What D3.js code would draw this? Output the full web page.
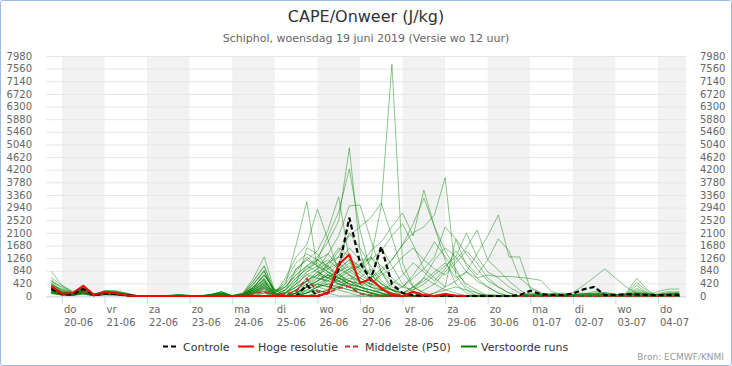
<!DOCTYPE html>
<html><head><meta charset="utf-8">
<script src="https://cdn.jsdelivr.net/npm/d3@7"></script>
<style>
body{margin:0;background:#fff}
svg{display:block}
text{font-family:"DejaVu Sans",Verdana,sans-serif}
</style>
</head><body>
<svg id="chart" width="732" height="366"></svg>
<script>
// ---------- data ----------
const dayNames = ["do","vr","za","zo","ma","di","wo","do","vr","za","zo","ma","di","wo","do"];
const dayDates = ["20-06","21-06","22-06","23-06","24-06","25-06","26-06","27-06","28-06","29-06","30-06","01-07","02-07","03-07","04-07"];
const yTickValues = [0,420,840,1260,1680,2100,2520,2940,3360,3780,4200,4620,5040,5460,5880,6300,6720,7140,7560,7980];
const shadedDays = ["20-06","22-06","24-06","26-06","28-06","30-06","02-07","04-07"];
const firstRun = Date.UTC(2019,5,19,18); // first value 19-06 18 UTC, 6-hourly

const control = [230,60,50,230,30,80,70,20,0, 0,0,0,0,0,0,0,0, 0,0,0,0,0,
  0,0,360,0,100,900,2600,1100,550,1640,400,100,
  30,0,0,20,0,0,0,0,0,0,30,
  175,60,40,30,80,220,300,30,40,60,50,40,30,40,40];
const hres = [330,70,100,340,40,120,100,20,0, 0,0,0,0,0,0,0,0, 0,0,0,0,0,
  0,0,0,0,100,1050,1380,430,570,250,40,0,
  140,30,0,70,20,0];
const p50 = [250,80,70,160,40,100,80,40,0, 0,0,0,0,0,0,0,10, 0,10,80,150,20,
  60,150,580,150,100,260,320,80,20,10,0,0,
  0,0,0,0,0,0,0,0,0,0,0,
  0,0,0,0,0,0,0,0,0,0,0,0,0,0,0];
const members = [
[820,360,150,260,60,150,120,60,10, 0,0,10,30,10,0,20,60, 20,100,600,1300,150, 400,1700,3136,900,300,600,400,200,100,50,20,0, 0,0,0,20,0,0,0,0,0,0,0, 0,0,10,0,0,0,20,50,30,0,0,0,10,20,10],
[620,340,120,210,50,140,110,40,0, 0,0,0,0,0,0,0,0, 10,80,500,1000,100, 600,1300,1700,2890,1860,800,300,100,50,0,0,0, 0,0,0,0,0,0,30,60,20,0,0, 0,0,0,0,0,40,80,60,20,0,50,0,0,0,0],
[520,180,90,300,40,180,160,90,10, 0,0,0,20,0,0,50,140, 0,60,400,850,50, 200,900,1200,1500,2200,3300,1200,400,100,0,0,0, 0,0,0,0,0,0,0,0,0,0,0, 0,0,0,0,0,0,0,0,0,30,100,40,0,0,0],
[420,120,70,160,30,110,90,40,0, 0,0,0,0,0,0,0,0, 0,50,300,700,200, 100,500,1000,1300,1800,2500,4930,1500,300,100,0,0, 0,0,0,0,0,0,0,0,0,0,0, 50,30,20,40,60,80,40,30,20,60,120,60,30,80,100],
[330,90,60,130,20,90,70,30,0, 0,0,0,0,0,10,40,100, 0,30,250,550,0, 50,300,800,1200,2000,2800,4220,2200,800,200,0,0, 0,0,0,0,0,0,0,0,0,0,0, 0,0,0,0,0,0,0,0,0,0,0,0,20,0,0],
[260,70,50,190,30,120,100,60,0, 0,0,0,0,0,0,0,0, 0,20,200,450,100, 0,200,600,900,1400,2000,3000,3025,1900,800,200,0, 0,0,0,0,0,0,0,0,0,0,0, 30,60,40,20,30,100,60,40,30,40,80,40,20,60,50],
[210,60,40,110,20,70,60,20,0, 0,0,0,0,0,0,0,0, 0,10,150,350,50, 0,100,300,500,800,600,900,1200,1200,3000,7700,1100, 300,100,0,0,0,0,0,0,0,0,0, 0,20,60,40,20,40,80,120,60,20,60,20,40,100,60],
[160,50,70,230,40,100,80,30,0, 0,10,20,40,20,0,10,30, 0,0,100,250,0, 0,100,400,700,1000,1500,2000,2300,2600,3090,1970,800, 300,100,0,0,0,0,0,0,0,0,0, 80,40,20,10,40,60,100,60,30,50,90,50,30,40,70],
[360,220,100,290,50,170,180,110,20, 0,0,0,0,0,0,0,0, 0,0,80,150,30, 0,0,200,400,300,600,800,1000,1500,1800,2300,2760, 2000,3525,2300,1200,400,100,0,0,0,0,0, 20,50,80,60,30,20,50,40,20,30,150,70,40,50,150],
[110,40,30,90,10,60,50,10,0, 0,0,10,30,10,0,20,60, 0,0,0,0,0, 0,0,100,200,100,300,500,300,600,900,1200,1700, 2400,3260,2300,1500,900,300,100,0,0,0,0, 100,60,30,20,10,30,60,90,40,20,40,20,10,30,40],
[480,300,130,240,70,130,140,70,10, 0,0,0,20,0,0,50,140, 0,50,300,700,200, 0,0,100,300,200,400,600,500,300,800,1200,1700, 2100,2300,2700,3934,700,200,0,0,0,0,0, 40,20,10,30,50,70,150,110,50,30,60,30,20,50,60],
[300,100,80,180,30,100,90,50,0, 0,0,0,0,0,0,0,0, 0,20,200,450,100, 0,50,150,300,400,500,700,300,200,100,0,100, 300,500,800,1100,600,800,1400,2000,2693,1300,1300, 250,100,0,0,0,0,0,0,0,0,0,0,0,0,0],
[240,80,60,150,20,80,70,30,0, 0,0,0,10,0,0,30,80, 0,0,100,250,0, 0,100,300,500,700,400,300,600,900,400,200,300, 200,600,1200,1600,1300,2095,1300,800,600,300,100, 0,0,0,0,0,0,0,0,0,0,0,0,0,0,0],
[180,60,50,120,20,60,50,20,0, 0,0,0,0,0,0,0,0, 0,30,250,550,0, 100,300,500,800,1000,600,400,300,200,100,0,0, 0,200,400,800,1200,1600,2195,1200,860,500,200, 0,0,0,0,0,0,0,0,0,0,0,0,0,0,0],
[140,50,40,200,30,90,80,40,0, 0,0,0,0,0,0,0,0, 0,0,0,0,0, 0,0,0,100,200,300,500,800,1200,1500,2000,2400, 1700,900,600,300,1890,1000,600,300,100,0,0, 0,0,0,0,0,0,0,0,0,0,0,0,0,0,0],
[390,150,90,270,40,150,130,80,10, 0,0,10,30,10,0,20,60, 0,50,300,700,200, 200,600,900,1100,800,500,300,200,100,50,0,0, 0,0,0,0,0,0,0,0,0,0,0, 0,0,0,0,120,350,620,900,600,300,100,50,0,0,0],
[280,90,70,170,30,110,100,50,0, 0,0,0,0,0,0,0,0, 0,10,150,350,50, 0,200,500,300,600,900,1200,800,500,300,100,0, 0,0,100,300,500,800,600,700,650,650,620, 580,520,150,50,0,0,0,0,0,0,0,0,0,0,0],
[200,70,40,140,20,70,60,30,0, 0,0,0,0,0,10,40,100, 10,80,500,1000,100, 300,800,1300,1000,700,1100,1600,1200,700,400,200,100, 0,0,0,0,0,0,0,0,0,0,0, 0,0,0,0,0,0,0,0,0,100,590,200,0,0,0],
[120,40,30,100,10,50,40,20,0, 0,0,0,0,0,0,0,0, 0,60,400,850,50, 100,400,1600,1400,900,700,500,300,100,0,0,0, 0,0,0,0,0,0,0,0,0,0,0, 0,0,0,0,0,0,0,0,0,80,450,150,0,0,0],
[90,30,20,70,10,40,30,10,0, 0,0,0,0,0,0,0,0, 0,0,0,0,0, 0,0,300,600,1100,1600,1300,900,1300,800,300,100, 0,0,0,0,0,0,0,0,0,0,0, 0,0,0,0,0,0,0,0,0,60,350,100,0,0,0],
[560,250,110,230,50,120,110,50,0, 0,0,0,20,0,0,50,140, 0,20,200,450,100, 500,1100,1400,1200,900,1300,2100,1600,1000,500,200,0, 0,0,0,0,0,0,0,0,0,0,0, 0,0,0,0,0,0,0,0,0,0,0,0,0,0,0],
[450,140,80,210,40,140,120,60,0, 0,0,0,0,0,0,0,0, 0,50,300,700,200, 300,700,1000,800,600,800,1100,900,600,1600,1000,400, 100,0,0,0,0,0,0,0,0,0,0, 0,0,0,0,0,0,0,0,0,0,0,0,0,0,0],
[350,110,70,190,30,100,90,40,0, 0,0,10,30,10,0,20,60, 0,30,250,550,0, 200,500,800,1000,1200,900,700,500,400,300,200,100, 200,400,700,1000,1300,800,500,300,100,0,0, 0,0,0,0,0,0,0,0,0,50,250,100,0,0,0],
[270,90,60,160,30,90,80,40,0, 0,0,0,0,0,0,0,0, 0,10,150,350,50, 100,400,700,600,500,700,900,1000,1300,1000,600,300, 700,1200,1800,1300,800,400,200,0,0,0,0, 0,0,0,0,0,0,0,0,0,0,0,0,0,0,0],
[220,70,50,130,20,80,70,30,0, 0,10,20,40,20,0,10,30, 0,0,100,250,0, 0,200,500,700,900,1100,800,600,400,700,900,1300, 1600,1200,900,700,1100,1500,1100,600,300,100,0, 0,0,0,0,0,0,0,0,0,0,0,0,0,0,0],
[170,60,40,110,20,70,60,30,0, 0,0,0,0,0,0,0,0, 0,0,80,150,30, 0,100,300,500,700,600,500,400,600,800,500,300, 600,900,1300,2300,1900,1400,900,500,300,100,0, 0,0,0,0,0,0,0,0,0,0,0,0,0,0,0],
[130,50,30,90,10,60,50,20,0, 0,0,0,0,0,0,0,0, 0,0,0,0,0, 0,0,100,300,500,800,1000,700,500,300,200,100, 0,0,0,0,0,0,0,0,0,0,0, 0,0,0,0,0,0,0,0,0,0,0,0,80,150,120],
[100,40,30,80,10,50,40,10,0, 0,0,0,0,0,0,0,0, 0,0,0,0,0, 0,100,200,400,600,400,300,200,100,200,400,700, 1100,800,500,900,1500,1100,700,1200,1900,1500,600, 300,100,0,0,0,0,0,0,0,0,0,0,0,0,0],
[310,130,80,250,40,130,110,60,0, 0,0,0,20,0,0,50,140, 0,60,400,800,100, 400,900,1200,1000,800,600,400,300,200,100,0,0, 0,0,0,0,0,0,0,0,0,0,0, 0,0,0,0,0,0,0,0,0,0,0,0,150,230,230],
[250,90,60,200,30,100,90,40,0, 0,0,0,0,0,0,0,0, 0,30,250,500,50, 200,600,900,1200,1000,700,500,400,300,200,100,0, 0,0,0,0,0,0,0,0,0,0,0, 0,0,0,0,0,0,0,0,0,0,0,0,50,100,80],
[190,80,50,150,20,80,70,30,0, 0,0,0,10,0,0,30,80, 0,20,200,400,0, 100,300,500,700,600,500,400,300,200,100,0,0, 0,0,0,0,0,0,0,0,0,0,0, 0,0,0,0,0,0,0,0,0,0,0,0,0,0,0],
[150,60,40,120,20,70,60,20,0, 0,0,0,0,0,0,0,0, 0,10,150,300,50, 0,200,400,600,500,400,300,200,100,0,0,0, 0,0,0,0,0,0,0,0,0,0,0, 0,0,0,0,0,0,0,0,0,40,200,80,0,0,0],
[110,40,30,100,10,60,50,20,0, 0,0,0,0,0,0,0,0, 0,0,100,200,0, 0,100,300,400,300,200,100,0,0,0,0,0, 0,0,0,0,0,0,0,0,0,0,0, 0,0,0,0,0,0,0,0,0,0,0,0,0,0,0],
[80,30,20,60,10,40,30,10,0, 0,0,0,0,0,0,0,0, 0,0,0,0,0, 0,0,100,200,100,0,0,0,0,0,0,0, 0,0,0,0,0,0,0,0,0,0,0, 0,0,0,0,0,0,0,0,0,0,0,0,0,0,0],
[400,200,100,280,50,160,150,70,10, 0,0,10,30,10,0,20,60, 0,40,300,600,100, 300,700,1000,1200,1400,1000,700,500,300,200,100,0, 0,0,0,0,0,0,0,0,0,0,0, 0,0,0,0,0,0,0,0,0,0,0,0,0,0,0],
[340,120,70,220,40,120,100,50,0, 0,0,0,0,0,0,0,0, 0,20,200,400,50, 100,400,700,900,1100,1300,900,600,400,200,100,0, 0,0,100,200,300,200,100,0,0,0,0, 0,0,0,0,0,0,0,0,0,0,0,0,0,0,0],
[290,100,60,180,30,110,90,40,0, 0,0,0,0,0,0,0,0, 0,0,100,300,0, 0,200,500,800,600,900,1200,1000,700,400,200,100, 300,600,400,200,100,0,0,0,0,0,0, 0,0,0,0,0,0,0,0,0,0,0,0,0,0,0],
[230,80,50,140,20,90,70,30,0, 0,0,0,0,0,10,40,100, 0,10,150,300,0, 0,100,300,500,700,500,300,200,100,0,0,0, 0,0,0,0,0,0,0,0,0,0,0, 0,0,50,100,50,0,0,0,0,0,0,0,0,0,0],
[160,60,40,120,20,70,60,20,0, 0,0,0,0,0,0,0,0, 0,0,0,100,0, 0,0,100,300,400,300,200,100,0,0,0,0, 0,0,0,0,0,0,0,0,0,0,0, 0,0,0,0,0,0,0,0,0,0,0,0,0,0,0],
[120,50,30,90,10,60,50,20,0, 0,0,0,0,0,0,0,0, 0,0,50,100,0, 0,0,0,100,200,300,200,100,0,0,0,0, 0,0,0,0,0,0,0,0,0,0,0, 0,0,0,0,0,0,0,0,0,0,0,0,0,0,0]
];
const legendItems = [
  {name:"Controle", color:"#000000", dash:"5,3", width:2.2},
  {name:"Hoge resolutie", color:"#ff0000", dash:null, width:2},
  {name:"Middelste (P50)", color:"#c83232", dash:"5,3", width:1.8},
  {name:"Verstoorde runs", color:"#008000", dash:null, width:2}
];

// ---------- layout ----------
const W = 732, H = 366;
const plot = {left:46, right:686, top:56, bottom:296};
const svg = d3.select("#chart");
const parseDay = s => { const [d,m] = s.split("-").map(Number); return new Date(Date.UTC(2019, m-1, d)); };
const timeAt = i => new Date(firstRun + i*6*3600*1000);

const x = d3.scaleUtc()
  .domain([new Date(Date.UTC(2019,5,19,15,0)), new Date(Date.UTC(2019,6,4,15,47))])
  .range([plot.left, plot.right]);
const y = d3.scaleLinear().domain([0, 7980]).range([plot.bottom, plot.top]);

svg.append("rect").attr("x",0.5).attr("y",0.5).attr("width",W-1).attr("height",H-1)
  .attr("rx",2).attr("fill","#fff").attr("stroke","#9bbbe2");

// bands
svg.append("g").selectAll("rect").data(shadedDays).join("rect")
  .attr("x", d => x(parseDay(d)))
  .attr("y", plot.top)
  .attr("width", d => Math.min(plot.right, x(new Date(parseDay(d).getTime()+86400000))) - x(parseDay(d)))
  .attr("height", plot.bottom - plot.top)
  .attr("fill", "#f2f2f2");

// grid
const grid = svg.append("g").attr("transform", `translate(${plot.left},0)`)
  .call(d3.axisLeft(y).tickValues(yTickValues).tickSize(-(plot.right-plot.left)).tickFormat(""));
grid.select(".domain").remove();
grid.selectAll("line").attr("stroke","#e6e6e6");

// y axes labels
function styleY(g){
  g.select(".domain").remove();
  g.selectAll("line").remove();
  g.selectAll("text").attr("fill","#666").style("font-size","10px").style("font-family","DejaVu Sans, sans-serif");
}
svg.append("g").attr("transform", `translate(${plot.left},0)`)
  .call(d3.axisLeft(y).tickValues(yTickValues).tickSize(0).tickPadding(14).tickFormat(d3.format("d")))
  .call(styleY);
svg.append("g").attr("transform", `translate(${plot.right},0)`)
  .call(d3.axisRight(y).tickValues(yTickValues).tickSize(0).tickPadding(14).tickFormat(d3.format("d")))
  .call(styleY);

// x axis
const xa = svg.append("g").attr("transform", `translate(0,${plot.bottom+0.5})`)
  .call(d3.axisBottom(x).tickValues(dayDates.map(parseDay)).tickSize(8).tickSizeOuter(0).tickFormat(""));
xa.select(".domain").attr("stroke","#ccd6eb");
xa.selectAll(".tick line").attr("stroke","#ccd6eb");
xa.selectAll(".tick").each(function(d,i){
  const t = d3.select(this).append("text").attr("fill","#666").attr("text-anchor","start")
    .style("font-size","10px").style("font-family","DejaVu Sans, sans-serif");
  t.append("tspan").attr("x",1.5).attr("y",16.5).text(dayNames[i]);
  t.append("tspan").attr("x",1.5).attr("y",29.5).text(dayDates[i]);
});

// series
svg.append("clipPath").attr("id","clip").append("rect")
  .attr("x",plot.left).attr("y",0).attr("width",plot.right-plot.left).attr("height",plot.bottom+2);
const series = svg.append("g").attr("clip-path","url(#clip)");
const line = d3.line().x((d,i)=>x(timeAt(i))).y(d=>y(d)).curve(d3.curveLinear);

series.append("g").selectAll("path").data(members).join("path")
  .attr("d", line).attr("fill","none").attr("stroke","#008000")
  .attr("stroke-opacity",0.45).attr("stroke-width",1).attr("stroke-linejoin","round");
series.append("path").datum(p50).attr("d",line).attr("fill","none")
  .attr("stroke","#c83232").attr("stroke-width",1.8).attr("stroke-dasharray","5,3");
series.append("path").datum(control).attr("d",line).attr("fill","none")
  .attr("stroke","#000").attr("stroke-width",2.2).attr("stroke-dasharray","5,3");
series.append("path").datum(hres).attr("d",line).attr("fill","none")
  .attr("stroke","#ff0000").attr("stroke-width",2).attr("stroke-linejoin","round");

// titles
svg.append("text").attr("x",W/2).attr("y",22).attr("text-anchor","middle")
  .attr("fill","#333").style("font-size","16px").text("CAPE/Onweer (J/kg)");
svg.append("text").attr("x",W/2).attr("y",42).attr("text-anchor","middle")
  .attr("fill","#666").style("font-size","11px").text("Schiphol, woensdag 19 juni 2019 (Versie wo 12 uur)");

// legend
const legendX = [163, 238, 345, 461];
const lg = svg.append("g");
legendItems.forEach((it,i)=>{
  const g = lg.append("g").attr("transform",`translate(${legendX[i]},346.5)`);
  g.append("line").attr("x1",0).attr("x2",16).attr("y1",0).attr("y2",0)
    .attr("stroke",it.color).attr("stroke-width",it.width).attr("stroke-dasharray",it.dash);
  g.append("text").attr("x",20).attr("y",4).attr("fill","#333").style("font-size","11px").text(it.name);
});

// credits
svg.append("text").attr("x",724).attr("y",360).attr("text-anchor","end")
  .attr("fill","#999").style("font-size","9px").text("Bron: ECMWF/KNMI");
</script>
</body></html>
